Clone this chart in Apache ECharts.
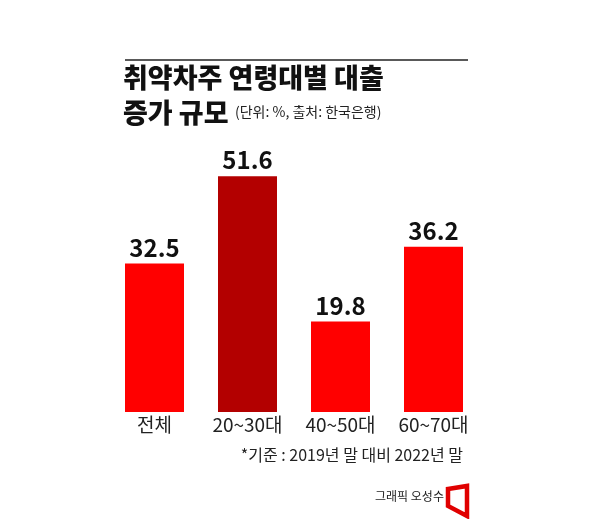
<!DOCTYPE html>
<html>
<head>
<meta charset="utf-8">
<script src="https://cdn.jsdelivr.net/npm/echarts@6/dist/echarts.min.js"></script>
<style>
  html, body { margin: 0; padding: 0; background: #fff; }
  #chart { width: 596px; height: 519px; }
</style>
</head>
<body>
<div id="chart"></div>
<script>
const categories = ['전체', '20~30대', '40~50대', '60~70대']
const values = [32.5, 51.6, 19.8, 36.2]
const highlight = [false, true, false, false]

const FONT = '"Noto Sans CJK KR", "Noto Sans", sans-serif'
const RED = '#ff0000'
const DARK_RED = '#b30000'

const chart = echarts.init(document.getElementById('chart'))

chart.setOption({
  backgroundColor: '#fff',
  animation: false,
  grid: { left: 108, right: 116, top: 138, bottom: 107 },
  xAxis: {
    type: 'category',
    data: categories,
    axisLine: { show: false },
    axisTick: { show: false },
    axisLabel: {
      margin: 3,
      color: '#222',
      fontFamily: FONT,
      fontSize: 19,
      lineHeight: 19,
      verticalAlign: 'top'
    }
  },
  yAxis: {
    type: 'value',
    min: 0,
    max: 60,
    show: false
  },
  series: [{
    type: 'bar',
    barWidth: 59,
    data: values.map((v, i) => ({
      value: v,
      itemStyle: { color: highlight[i] ? DARK_RED : RED }
    })),
    label: {
      show: true,
      position: 'top',
      distance: 4,
      color: '#111',
      fontFamily: FONT,
      fontSize: 24,
      fontWeight: 'bold'
    }
  }],
  graphic: [
    {
      type: 'line',
      shape: { x1: 125, y1: 60, x2: 468, y2: 60 },
      style: { stroke: '#222', lineWidth: 1.5 }
    },
    {
      type: 'text', left: 123, top: 64,
      style: {
        text: '취약차주 연령대별 대출',
        font: '900 27px ' + FONT,
        fill: '#111'
      }
    },
    {
      type: 'text', left: 123, top: 99,
      style: {
        text: '증가 규모',
        font: '900 27px ' + FONT,
        fill: '#111'
      }
    },
    {
      type: 'text', left: 235, top: 105,
      style: {
        text: '(단위: %, 출처: 한국은행)',
        font: '14px ' + FONT,
        fill: '#222'
      }
    },
    {
      type: 'text', right: 133, top: 447,
      style: {
        text: '*기준 : 2019년 말 대비 2022년 말',
        font: '16px ' + FONT,
        fill: '#222'
      }
    },
    {
      type: 'text', left: 375, top: 490,
      style: {
        text: '그래픽 오성수',
        font: '12px ' + FONT,
        fill: '#222'
      }
    },
    {
      type: 'polygon',
      shape: { points: [[448, 489], [467, 486], [467, 516], [448, 506]] },
      style: { fill: 'none', stroke: '#e00000', lineWidth: 4.5, lineJoin: 'miter' }
    }
  ]
})
</script>
</body>
</html>
